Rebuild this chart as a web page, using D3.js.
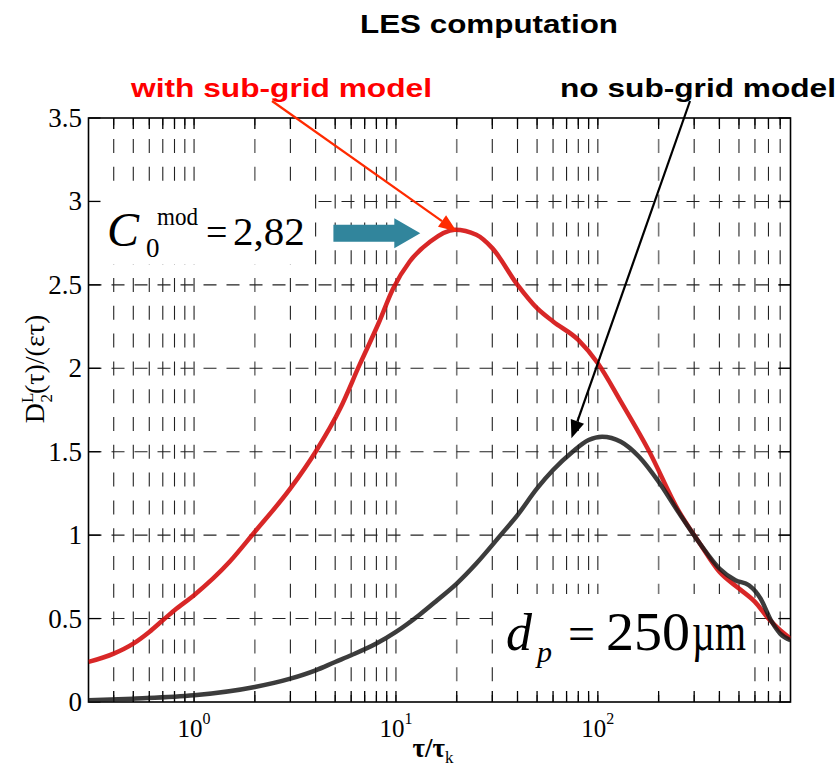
<!DOCTYPE html>
<html><head><meta charset="utf-8">
<script src="https://cdn.jsdelivr.net/npm/d3@7"></script>
<style>body{margin:0;background:#fff}svg{display:block}</style>
</head><body>
<script>
// ---- data ----
const redTau = [0.3,0.4,0.5,0.6,0.7,0.8,1,1.5,2,3,4,5.3,6.6,8.2,9.7,11.7,14.8,19.6,25,30,40,50,60,80,100,130,180,250,320,400,500,600,700,800,900];
const redVal = [0.24,0.29,0.35,0.42,0.49,0.55,0.64,0.84,1.02,1.28,1.5,1.76,2.02,2.27,2.48,2.64,2.76,2.83,2.8,2.72,2.5,2.36,2.28,2.17,2.03,1.8,1.5,1.15,0.95,0.78,0.68,0.6,0.5,0.43,0.38];
const blackTau = [0.3,0.5,1,2,3,4,5,6,8,10,13,16,20,25,33,40,50,60,75,90,105,130,160,200,250,320,400,480,560,640,720,800,900];
const blackVal = [0.01,0.02,0.04,0.09,0.14,0.19,0.24,0.28,0.35,0.42,0.52,0.61,0.71,0.83,1.0,1.12,1.28,1.39,1.5,1.57,1.59,1.56,1.47,1.32,1.14,0.95,0.8,0.73,0.7,0.62,0.49,0.41,0.37];
const yTicks = [0,0.5,1,1.5,2,2.5,3,3.5];
const xMajor = [1,10,100];
const xMajorExp = ["0","1","2"];
const xMinor = [0.4,0.5,0.6,0.7,0.8,0.9,1,2,3,4,5,6,7,8,9,10,20,30,40,50,60,70,80,90,100,200,300,400,500,600,700,800];
const title = "LES computation";
const labelWith = "with sub-grid model";
const labelNo = "no sub-grid model";
const peak = {tau:20, val:2.82};
const noArrowTip = {tau:74, val:1.58};

const W=839,H=775;
const svg = d3.select("body").append("svg").attr("width",W).attr("height",H);
const x = d3.scaleLog().domain([0.3,900]).range([88.5,790.5]);
const y = d3.scaleLinear().domain([0,3.5]).range([702,118]);
const serif = "'Liberation Serif','Times New Roman',serif";
const sans = "'Liberation Sans',Arial,sans-serif";

svg.append("clipPath").attr("id","clip").append("rect")
  .attr("x",x.range()[0]).attr("y",y(3.5)).attr("width",x.range()[1]-x.range()[0]).attr("height",y(0)-y(3.5));

// grid
const grid = svg.append("g").attr("clip-path","url(#clip)");
grid.selectAll("line.v").data(xMinor).join("line")
  .attr("x1",d=>x(d)).attr("x2",d=>x(d)).attr("y1",y(0)+7).attr("y2",y(3.5))
  .attr("stroke",d=>[2,20,200].includes(d)?"#777":"#222").attr("stroke-width",d=>[2,20,200].includes(d)?1.6:1.1)
  .attr("stroke-dasharray","14,13.8");
grid.selectAll("line.h").data(yTicks.slice(1,-1)).join("line")
  .attr("x1",x.range()[0]).attr("x2",x.range()[1]).attr("y1",d=>y(d)).attr("y2",d=>y(d))
  .attr("stroke","#222").attr("stroke-width",1.1).attr("stroke-dasharray","13,10");

// white boxes behind annotation texts
svg.append("rect").attr("x",98).attr("y",190).attr("width",215).attr("height",74).attr("fill","#fff");
svg.append("rect").attr("x",497).attr("y",594).attr("width",255).attr("height",94).attr("fill","#fff");

// ticks
const tk = svg.append("g").attr("stroke","#000").attr("stroke-width",1.3);
xMinor.forEach(d=>{
  tk.append("line").attr("x1",x(d)).attr("x2",x(d)).attr("y1",y(0)).attr("y2",y(0)-11);
  tk.append("line").attr("x1",x(d)).attr("x2",x(d)).attr("y1",y(3.5)).attr("y2",y(3.5)+11);
});
yTicks.forEach(d=>{
  tk.append("line").attr("x1",x.range()[0]).attr("x2",x.range()[0]+12).attr("y1",y(d)).attr("y2",y(d));
  tk.append("line").attr("x1",x.range()[1]).attr("x2",x.range()[1]-12).attr("y1",y(d)).attr("y2",y(d));
});

// frame
svg.append("rect").attr("x",x.range()[0]).attr("y",y(3.5)).attr("width",x.range()[1]-x.range()[0]).attr("height",y(0)-y(3.5))
  .attr("fill","none").attr("stroke","#000").attr("stroke-width",1.6);

// curves
const line = (taus)=>d3.line().x((d,i)=>x(taus[i])).y(d=>y(d)).curve(d3.curveMonotoneX);
const curves = svg.append("g").attr("clip-path","url(#clip)");
curves.append("path").attr("d",line(redTau)(redVal)).attr("fill","none").attr("stroke","#d41010").attr("stroke-width",4.5).attr("stroke-opacity",0.9);
curves.append("path").attr("d",line(blackTau)(blackVal)).attr("fill","none").attr("stroke","#1a1a1a").attr("stroke-width",4.5).attr("stroke-opacity",0.85);

// tick labels
svg.append("g").selectAll("text").data(yTicks).join("text")
  .attr("x",82).attr("y",d=>y(d)+9).attr("text-anchor","end")
  .attr("font-family",serif).attr("font-size",27).text(d=>d);
const xl = svg.append("g").selectAll("text").data(xMajor).join("text")
  .attr("x",d=>x(d)).attr("y",737).attr("text-anchor","middle")
  .attr("font-family",serif).attr("font-size",25);
xl.append("tspan").text("10");
xl.append("tspan").attr("font-size",16).attr("dy",-13).text((d,i)=>xMajorExp[i]);

// axis labels
const xt = svg.append("text").attr("x",433).attr("y",757).attr("text-anchor","middle")
  .attr("font-family",serif).attr("font-size",27).attr("font-weight","bold");
xt.append("tspan").text("τ/τ");
xt.append("tspan").attr("font-size",17).attr("dy",6).attr("font-weight","normal").text("k");

const yt = svg.append("text").attr("transform","translate(44,369) rotate(-90)").attr("text-anchor","middle")
  .attr("font-family",serif).attr("font-size",28);
yt.append("tspan").text("D");
yt.append("tspan").attr("font-size",17).attr("dy",-11).text("L");
yt.append("tspan").attr("font-size",17).attr("dx",-10).attr("dy",19).text("2");
yt.append("tspan").attr("dy",-8).text("(τ)/(ετ)");

// titles
svg.append("text").attr("x",360).attr("y",33).attr("font-family",sans).attr("font-weight","bold").attr("font-size",25)
  .attr("textLength",258).attr("lengthAdjust","spacingAndGlyphs").text(title);
svg.append("text").attr("x",131).attr("y",97).attr("font-family",sans).attr("font-weight","bold").attr("font-size",26)
  .attr("fill","#ff0000").attr("textLength",301).attr("lengthAdjust","spacingAndGlyphs").text(labelWith);
svg.append("text").attr("x",560).attr("y",97).attr("font-family",sans).attr("font-weight","bold").attr("font-size",26)
  .attr("fill","#000").attr("textLength",276).attr("lengthAdjust","spacingAndGlyphs").text(labelNo);

// arrows
function arrow(x1,y1,x2,y2,color,w,hl,hw){
  const a=Math.atan2(y2-y1,x2-x1);
  const bx=x2-hl*Math.cos(a), by=y2-hl*Math.sin(a);
  svg.append("line").attr("x1",x1).attr("y1",y1).attr("x2",bx).attr("y2",by).attr("stroke",color).attr("stroke-width",w);
  const px=-Math.sin(a)*hw, py=Math.cos(a)*hw;
  svg.append("path").attr("d",`M${x2},${y2}L${bx+px},${by+py}L${bx-px},${by-py}Z`).attr("fill",color);
}
arrow(272,101,x(peak.tau),y(peak.val),"#ff2a00",2.2,18,7);
arrow(690,101,x(noArrowTip.tau),y(noArrowTip.val),"#000",2.2,18,7);

// teal block arrow
{
  const x0=x(4.9), x1=x(13.2), yc=y(2.81), hl=26;
  svg.append("path").attr("d",`M${x0},${yc-8.5}L${x1-hl},${yc-8.5}L${x1-hl},${yc-15}L${x1},${yc}L${x1-hl},${yc+15}L${x1-hl},${yc+8.5}L${x0},${yc+8.5}Z`)
    .attr("fill","#31859c");
}

// C0 annotation
svg.append("text").attr("x",107).attr("y",246).attr("font-family",serif).attr("font-style","italic").attr("font-size",48).text("C");
svg.append("text").attr("x",146).attr("y",257).attr("font-family",serif).attr("font-size",27).text("0");
svg.append("text").attr("x",157).attr("y",225).attr("font-family",serif).attr("font-size",26).attr("textLength",41).attr("lengthAdjust","spacingAndGlyphs").text("mod");
svg.append("text").attr("x",206).attr("y",245).attr("font-family",serif).attr("font-size",38).text("=");
svg.append("text").attr("x",233).attr("y",245).attr("font-family",serif).attr("font-size",41).text("2,82");

// dp annotation
svg.append("text").attr("x",506).attr("y",650).attr("font-family",serif).attr("font-style","italic").attr("font-size",52).text("d");
svg.append("text").attr("x",537).attr("y",662).attr("font-family",serif).attr("font-style","italic").attr("font-size",30).text("p");
svg.append("text").attr("x",568).attr("y",650).attr("font-family",serif).attr("font-size",48).text("=");
svg.append("text").attr("x",606).attr("y",650).attr("font-family",serif).attr("font-size",54).attr("textLength",84).attr("lengthAdjust","spacingAndGlyphs").text("250");
svg.append("text").attr("x",692).attr("y",650).attr("font-family",serif).attr("font-size",54).attr("textLength",54).attr("lengthAdjust","spacingAndGlyphs").text("µm");
</script>
</body></html>
